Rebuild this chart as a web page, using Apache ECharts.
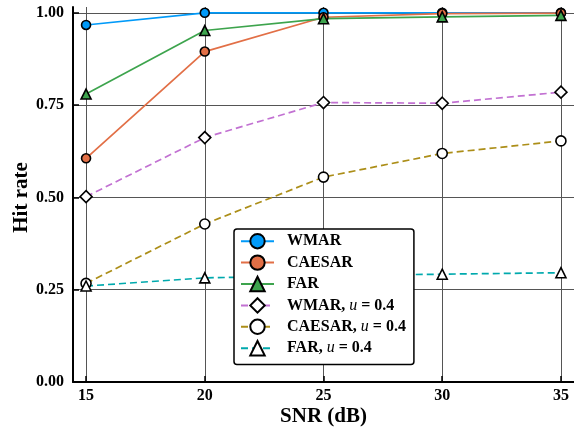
<!DOCTYPE html>
<html>
<head>
<meta charset="utf-8">
<script src="https://cdn.jsdelivr.net/npm/echarts@6/dist/echarts.min.js"></script>
<style>
html,body{margin:0;padding:0;background:#fff;}
#chart{width:574px;height:430px;}
</style>
</head>
<body>
<div id="chart"></div>
<script>
const snr = [15, 20, 25, 30, 35];
const xTicks = [15, 20, 25, 30, 35];
const yTicks = [0, 0.25, 0.5, 0.75, 1.0];

const wmar = [0.967, 1.0, 1.0, 1.0, 1.0];
const caesar = [0.606, 0.895, 0.988, 0.998, 0.999];
const far = [0.780, 0.952, 0.984, 0.989, 0.993];
const wmarU = [0.502, 0.662, 0.757, 0.755, 0.785];
const caesarU = [0.267, 0.428, 0.555, 0.619, 0.653];
const farU = [0.260, 0.282, 0.288, 0.292, 0.296];

const FONT = '"Liberation Serif", "Times New Roman", serif';

function pairs(ys) { return snr.map((x, i) => [x, ys[i]]); }

function mk(name, data, color, symbol, size, filled, dashed) {
  return {
    name: name,
    type: 'line',
    data: pairs(data),
    symbol: symbol,
    symbolSize: size,
    showSymbol: true,
    clip: false,
    lineStyle: { color: color, width: 1.7, type: dashed ? [7, 4] : 'solid' },
    itemStyle: { color: filled ? color : '#ffffff', borderColor: '#000', borderWidth: 1.6 },
    emphasis: { disabled: true },
    animation: false
  };
}

const series = [
  mk('WMAR', wmar, '#009af9', 'circle', 9, true, false),
  mk('CAESAR', caesar, '#e26f46', 'circle', 9, true, false),
  mk('FAR', far, '#3da44d', 'triangle', 10, true, false),
  mk('WMAR, u = 0.4', wmarU, '#c271d2', 'diamond', 12, false, true),
  mk('CAESAR, u = 0.4', caesarU, '#ac8e18', 'circle', 10, false, true),
  mk('FAR, u = 0.4', farU, '#00a9ad', 'triangle', 10, false, true)
];

const chart = echarts.init(document.getElementById('chart'), null, { renderer: 'canvas' });
chart.setOption({
  animation: false,
  backgroundColor: '#ffffff',
  grid: { left: 73, right: 0, top: 7, bottom: 48, containLabel: false, outerBoundsMode: 'none' },
  xAxis: {
    type: 'value',
    min: 14.45,
    max: 35.55,
    name: 'SNR (dB)',
    nameLocation: 'middle',
    nameGap: 24,
    nameMoveOverlap: false,
    nameTextStyle: { fontFamily: FONT, fontWeight: 'bold', fontSize: 21, color: '#000' },
    axisLine: { show: true, onZero: false, lineStyle: { color: '#000', width: 2 } },
    axisTick: { show: true, inside: true, length: 6, customValues: xTicks, lineStyle: { color: '#000', width: 1.5 } },
    axisLabel: { show: true, margin: 6, customValues: xTicks, fontFamily: FONT, fontWeight: 'bold', fontSize: 16, color: '#000', formatter: v => String(Math.round(v)) },
    splitLine: { show: true, lineStyle: { color: '#555', width: 1 } }
  },
  yAxis: {
    type: 'value',
    min: 0,
    max: 1.0157,
    name: 'Hit rate',
    nameLocation: 'middle',
    nameGap: 41,
    nameMoveOverlap: false,
    nameRotate: 90,
    nameTextStyle: { fontFamily: FONT, fontWeight: 'bold', fontSize: 21, color: '#000', padding: [0, 6, 0, 0] },
    axisLine: { show: true, onZero: false, lineStyle: { color: '#000', width: 2 } },
    axisTick: { show: true, inside: true, length: 6, customValues: yTicks, lineStyle: { color: '#000', width: 1.5 } },
    axisLabel: { show: true, margin: 9, customValues: yTicks, fontFamily: FONT, fontWeight: 'bold', fontSize: 16, color: '#000', formatter: v => v.toFixed(2) },
    splitLine: { show: true, lineStyle: { color: '#555', width: 1 } }
  },
  legend: {
    orient: 'vertical',
    left: 234,
    top: 229,
    itemWidth: 33,
    itemHeight: 18,
    itemGap: 5,
    padding: [4, 8, 8, 6],
    backgroundColor: '#ffffff',
    borderColor: '#000',
    borderWidth: 1.5,
    borderRadius: 3,
    data: series.map(s => s.name),
    formatter: function (name) {
      const i = name.indexOf(', u = ');
      if (i < 0) return '{b|' + name + '}';
      return '{b|' + name.slice(0, i) + ', }{i|u}{b| = 0.4}';
    },
    textStyle: {
      padding: [0, 0, 0, 8],
      rich: {
        b: { fontFamily: FONT, fontWeight: 'bold', fontSize: 16, color: '#000' },
        i: { fontFamily: FONT, fontStyle: 'italic', fontSize: 16, color: '#000' }
      }
    },
    selectedMode: false
  },
  series: series
});
</script>
</body>
</html>
